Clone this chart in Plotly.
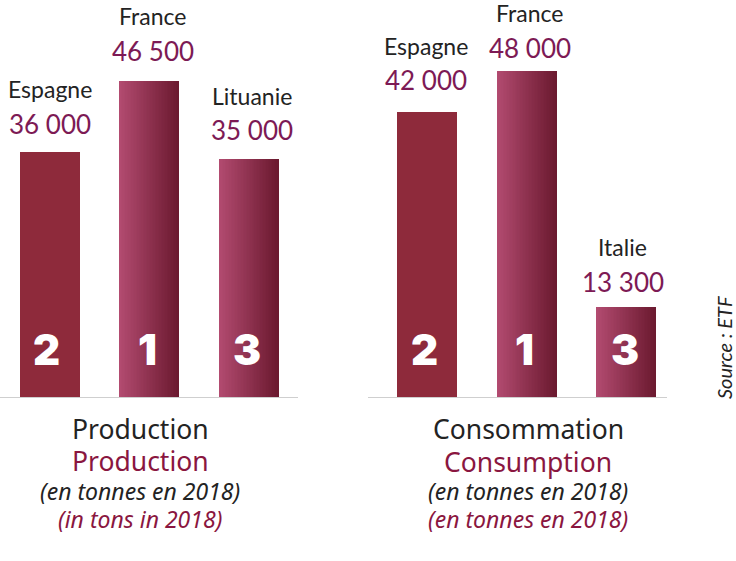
import numpy as np
import plotly.graph_objects as go
from plotly.subplots import make_subplots

# values (tonnes, 2018)
prod_countries = ["Espagne", "France", "Lituanie"]
prod_values = [36000, 46500, 35000]
prod_labels = ["36 000", "46 500", "35 000"]
prod_ranks = ["2", "1", "3"]

cons_countries = ["Espagne", "France", "Italie"]
cons_values = [42000, 48000, 13300]
cons_labels = ["42 000", "48 000", "13 300"]
cons_ranks = ["2", "1", "3"]

W, H = 736, 561
BASE_Y = 397
PX_PER_UNIT = 0.006796
BAR_W = 0.595
N_SLICES = 40

DARK = "#232323"
WINE = "#7d1a55"
TITLE_WINE = "#8a1640"
SOLID = "#8e2a3b"
GRAD_L = np.array([178, 75, 112])
GRAD_R = np.array([108, 26, 48])

# the labels are not evenly placed over the bars in the original (pixels)
prod_layout = dict(dx=[0, 3, 3], value_gap=[28, 30, 29], name_gap=[63, 65, 63])
cons_layout = dict(dx=[-1, 3, -4], value_gap=[32, 23, 25], name_gap=[66, 58, 60])
rank_dx = [-3, -2, -2]


def bar_slices(values):
    # plotly has no gradient fill on bars, so gradient bars are cut in thin vertical slices
    xs, ys, cols, widths = [], [], [], []
    step = BAR_W / N_SLICES
    for i, v in enumerate(values):
        if i == 0:
            xs.append(i)
            ys.append(v)
            cols.append(SOLID)
            widths.append(0.605)
            continue
        for k in range(N_SLICES):
            t = k / (N_SLICES - 1)
            c = GRAD_L + (GRAD_R - GRAD_L) * t
            xs.append(i - BAR_W / 2 + step * (k + 0.5))
            ys.append(v)
            cols.append("rgb(%d,%d,%d)" % tuple(c))
            widths.append(step * 1.15)
    return xs, ys, cols, widths


fig = make_subplots(rows=1, cols=2)

for col, values in [(1, prod_values), (2, cons_values)]:
    xs, ys, cols, widths = bar_slices(values)
    fig.add_trace(go.Bar(x=xs, y=ys, width=widths, marker=dict(color=cols, line=dict(width=0))), row=1, col=col)

y_top = BASE_Y / PX_PER_UNIT
y_dom = [(H - BASE_Y) / H, 1]
fig.update_yaxes(range=[0, y_top], domain=y_dom, visible=False)
fig.update_xaxes(showgrid=False, zeroline=False, showticklabels=False, ticks="", showline=True, linecolor="#cfcfcf", linewidth=1)
fig.update_xaxes(domain=[0 / W, 298 / W], range=[-0.5, 2.49], row=1, col=1)
fig.update_xaxes(domain=[368 / W, 667 / W], range=[-0.595, 2.405], row=1, col=2)


def bar_texts(xref, yref, countries, values, labels, ranks, pos):
    for i in range(3):
        fig.add_annotation(x=i, y=values[i], xref=xref, yref=yref, text=labels[i], showarrow=False,
                           yanchor="middle", xshift=pos["dx"][i], yshift=pos["value_gap"][i],
                           font=dict(family="Lato", size=26, color=WINE))
        fig.add_annotation(x=i, y=values[i], xref=xref, yref=yref, text=countries[i], showarrow=False,
                           yanchor="middle", xshift=pos["dx"][i], yshift=pos["name_gap"][i],
                           font=dict(family="Lato", size=23, color=DARK))
        fig.add_annotation(x=i, y=0, xref=xref, yref=yref, text=ranks[i], showarrow=False,
                           yanchor="middle", xshift=rank_dx[i], yshift=48,
                           font=dict(family="Inter", size=42, color="white", weight=900))


bar_texts("x", "y", prod_countries, prod_values, prod_labels, prod_ranks, prod_layout)
bar_texts("x2", "y2", cons_countries, cons_values, cons_labels, cons_ranks, cons_layout)


def caption(cx, cy, text, size, color, italic=False):
    fig.add_annotation(x=cx / W, y=1 - cy / H, xref="paper", yref="paper", text=text, showarrow=False,
                       xanchor="center", yanchor="middle",
                       font=dict(family="Noto Sans", size=size, color=color, style="italic" if italic else "normal"))


caption(140, 429, "Production", 26.5, DARK)
caption(140, 461, "Production", 26.5, TITLE_WINE)
caption(140, 491, "(en tonnes en 2018)", 23, DARK, True)
caption(140, 519, "(in tons in 2018)", 23, TITLE_WINE, True)

caption(528, 429, "Consommation", 26.5, DARK)
caption(528, 462, "Consumption", 26.5, TITLE_WINE)
caption(528, 491, "(en tonnes en 2018)", 23, DARK, True)
caption(528, 519, "(en tonnes en 2018)", 23, TITLE_WINE, True)

fig.add_annotation(x=724 / W, y=1 - 348 / H, xref="paper", yref="paper", text="Source : ETF", textangle=-90,
                   xanchor="center", yanchor="middle", showarrow=False,
                   font=dict(family="Lato", size=20, color=DARK, style="italic"))

fig.update_layout(width=W, height=H, margin=dict(l=0, r=0, t=0, b=0), showlegend=False, bargap=0,
                  barmode="overlay", paper_bgcolor="white", plot_bgcolor="white", hovermode=False)

# page default margin would push the plot 8px off
fig.write_html("out.html", post_script="document.body.style.margin='0';", config=dict(displayModeBar=False))
